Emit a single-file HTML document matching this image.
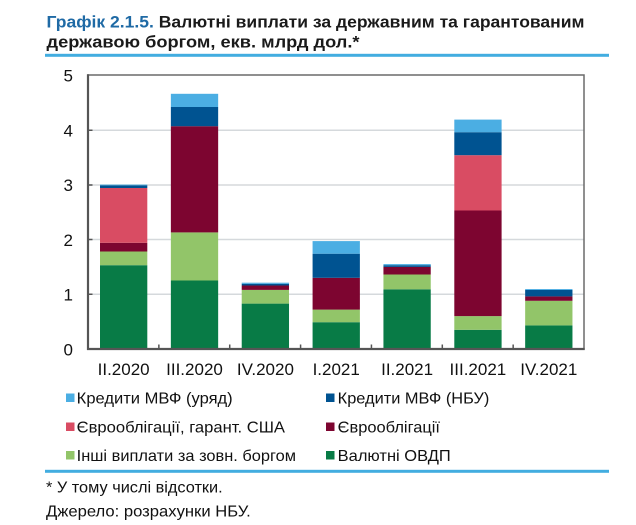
<!DOCTYPE html>
<html>
<head>
<meta charset="utf-8">
<style>
html,body{margin:0;padding:0;background:#fff;}
svg{display:block;}
text{font-family:"Liberation Sans","Noto Sans CJK SC",sans-serif;}
</style>
</head>
<body>
<svg width="636" height="525" viewBox="0 0 636 525" xmlns="http://www.w3.org/2000/svg">
  <!-- Title -->
  <text x="46.5" y="27.7" font-size="16.2" font-weight="bold" fill="#1a1a1a" textLength="538" lengthAdjust="spacingAndGlyphs"><tspan fill="#1f6aa5">Графік 2.1.5.</tspan> Валютні виплати за державним та гарантованим</text>
  <text x="46.5" y="47.7" font-size="16.2" font-weight="bold" fill="#1a1a1a" textLength="313" lengthAdjust="spacingAndGlyphs">державою боргом, екв. млрд дол.*</text>
  <rect x="45" y="53.8" width="564" height="3" fill="#42ade0"/>

  <!-- gridlines -->
  <g stroke="#d5d9dc" stroke-width="1.5">
    <line x1="88" y1="130.25" x2="584" y2="130.25"/>
    <line x1="88" y1="185" x2="584" y2="185"/>
    <line x1="88" y1="239.5" x2="584" y2="239.5"/>
    <line x1="88" y1="294.25" x2="584" y2="294.25"/>
  </g>

  <!-- bars -->
  <!-- B1 II.2020 -->
  <g>
    <rect x="100" y="265.2" width="47.3" height="83.8" fill="#087b46"/>
    <rect x="100" y="251.5" width="47.3" height="13.7" fill="#92c569"/>
    <rect x="100" y="242.8" width="47.3" height="8.7" fill="#7d0530"/>
    <rect x="100" y="188.0" width="47.3" height="54.8" fill="#d94c63"/>
    <rect x="100" y="185.3" width="47.3" height="2.7" fill="#005391"/>
    <rect x="100" y="184.6" width="47.3" height="0.7" fill="#4baee3"/>
  </g>
  <!-- B2 III.2020 -->
  <g>
    <rect x="170.86" y="280.5" width="47.3" height="68.5" fill="#087b46"/>
    <rect x="170.86" y="232.4" width="47.3" height="48.1" fill="#92c569"/>
    <rect x="170.86" y="126.2" width="47.3" height="106.2" fill="#7d0530"/>
    <rect x="170.86" y="107.0" width="47.3" height="19.2" fill="#005391"/>
    <rect x="170.86" y="93.8" width="47.3" height="13.2" fill="#4baee3"/>
  </g>
  <!-- B3 IV.2020 -->
  <g>
    <rect x="241.72" y="303.6" width="47.3" height="45.4" fill="#087b46"/>
    <rect x="241.72" y="289.9" width="47.3" height="13.7" fill="#92c569"/>
    <rect x="241.72" y="285.5" width="47.3" height="4.4" fill="#7d0530"/>
    <rect x="241.72" y="283.8" width="47.3" height="1.7" fill="#005391"/>
    <rect x="241.72" y="282.7" width="47.3" height="1.1" fill="#4baee3"/>
  </g>
  <!-- B4 I.2021 -->
  <g>
    <rect x="312.58" y="322.2" width="47.3" height="26.8" fill="#087b46"/>
    <rect x="312.58" y="309.6" width="47.3" height="12.6" fill="#92c569"/>
    <rect x="312.58" y="277.8" width="47.3" height="31.8" fill="#7d0530"/>
    <rect x="312.58" y="253.7" width="47.3" height="24.1" fill="#005391"/>
    <rect x="312.58" y="241.1" width="47.3" height="12.6" fill="#4baee3"/>
  </g>
  <!-- B5 II.2021 -->
  <g>
    <rect x="383.44" y="289.3" width="47.3" height="59.7" fill="#087b46"/>
    <rect x="383.44" y="274.5" width="47.3" height="14.8" fill="#92c569"/>
    <rect x="383.44" y="266.9" width="47.3" height="7.6" fill="#7d0530"/>
    <rect x="383.44" y="265.2" width="47.3" height="1.7" fill="#005391"/>
    <rect x="383.44" y="264.1" width="47.3" height="1.1" fill="#4baee3"/>
  </g>
  <!-- B6 III.2021 -->
  <g>
    <rect x="454.3" y="329.8" width="47.3" height="19.2" fill="#087b46"/>
    <rect x="454.3" y="316.1" width="47.3" height="13.7" fill="#92c569"/>
    <rect x="454.3" y="210.5" width="47.3" height="105.6" fill="#7d0530"/>
    <rect x="454.3" y="155.2" width="47.3" height="55.3" fill="#d94c63"/>
    <rect x="454.3" y="132.2" width="47.3" height="23.0" fill="#005391"/>
    <rect x="454.3" y="119.6" width="47.3" height="12.6" fill="#4baee3"/>
  </g>
  <!-- B7 IV.2021 -->
  <g>
    <rect x="525.16" y="325.4" width="47.3" height="23.6" fill="#087b46"/>
    <rect x="525.16" y="300.8" width="47.3" height="24.6" fill="#92c569"/>
    <rect x="525.16" y="296.4" width="47.3" height="4.4" fill="#7d0530"/>
    <rect x="525.16" y="289.9" width="47.3" height="6.5" fill="#005391"/>
    <rect x="525.16" y="289.0" width="47.3" height="0.9" fill="#4baee3"/>
  </g>

  <!-- frame -->
  <rect x="88" y="75" width="496" height="274" fill="none" stroke="#6a6a6a" stroke-width="1.5"/>
  <line x1="88" y1="74.3" x2="88" y2="350" stroke="#555" stroke-width="2.2"/>
  <line x1="87" y1="349" x2="584.7" y2="349" stroke="#555" stroke-width="2.2"/>

  <!-- ticks -->
  <g stroke="#555" stroke-width="1.5">
    <line x1="88" y1="130.25" x2="92.5" y2="130.25"/>
    <line x1="88" y1="185" x2="92.5" y2="185"/>
    <line x1="88" y1="239.5" x2="92.5" y2="239.5"/>
    <line x1="88" y1="294.25" x2="92.5" y2="294.25"/>
    <line x1="158.86" y1="344.5" x2="158.86" y2="349"/>
    <line x1="229.72" y1="344.5" x2="229.72" y2="349"/>
    <line x1="300.58" y1="344.5" x2="300.58" y2="349"/>
    <line x1="371.44" y1="344.5" x2="371.44" y2="349"/>
    <line x1="442.3" y1="344.5" x2="442.3" y2="349"/>
    <line x1="513.16" y1="344.5" x2="513.16" y2="349"/>
  </g>

  <!-- y labels -->
  <g font-size="17" fill="#111" text-anchor="end">
    <text x="73" y="81.7">5</text>
    <text x="73" y="136.5">4</text>
    <text x="73" y="191.2">3</text>
    <text x="73" y="245.9">2</text>
    <text x="73" y="300.7">1</text>
    <text x="73" y="355.5">0</text>
  </g>

  <!-- x labels -->
  <g font-size="17" fill="#111" text-anchor="middle">
    <text x="123.65" y="375">II.2020</text>
    <text x="194.5" y="375">III.2020</text>
    <text x="265.4" y="375">IV.2020</text>
    <text x="336.2" y="375">I.2021</text>
    <text x="407.1" y="375">II.2021</text>
    <text x="477.9" y="375">III.2021</text>
    <text x="548.8" y="375">IV.2021</text>
  </g>

  <!-- legend -->
  <g font-size="16" fill="#111">
    <rect x="66" y="393.5" width="8.5" height="8.5" fill="#4baee3"/>
    <text x="76.7" y="403.3" textLength="156" lengthAdjust="spacingAndGlyphs">Кредити МВФ (уряд)</text>
    <rect x="326" y="393.5" width="8.5" height="8.5" fill="#005391"/>
    <text x="337.7" y="403.3" textLength="151.6" lengthAdjust="spacingAndGlyphs">Кредити МВФ (НБУ)</text>

    <rect x="66" y="422.5" width="8.5" height="8.5" fill="#d94c63"/>
    <text x="76.7" y="432.3" textLength="208.3" lengthAdjust="spacingAndGlyphs">Єврооблігації, гарант. США</text>
    <rect x="326" y="422.5" width="8.5" height="8.5" fill="#7d0530"/>
    <text x="337.7" y="432.3" textLength="102.3" lengthAdjust="spacingAndGlyphs">Єврооблігації</text>

    <rect x="66" y="451" width="8.5" height="8.5" fill="#92c569"/>
    <text x="76.7" y="460.8" textLength="219.3" lengthAdjust="spacingAndGlyphs">Інші виплати за зовн. боргом</text>
    <rect x="326" y="451" width="8.5" height="8.5" fill="#087b46"/>
    <text x="337.7" y="460.8" textLength="113" lengthAdjust="spacingAndGlyphs">Валютні ОВДП</text>
  </g>

  <rect x="45" y="469.8" width="564" height="3" fill="#42ade0"/>

  <!-- footnotes -->
  <g font-size="16" fill="#111">
    <text x="46" y="492.3" textLength="176.7" lengthAdjust="spacingAndGlyphs">* У тому числі відсотки.</text>
    <text x="46" y="516.6" textLength="204.7" lengthAdjust="spacingAndGlyphs">Джерело: розрахунки НБУ.</text>
  </g>
</svg>
</body>
</html>
